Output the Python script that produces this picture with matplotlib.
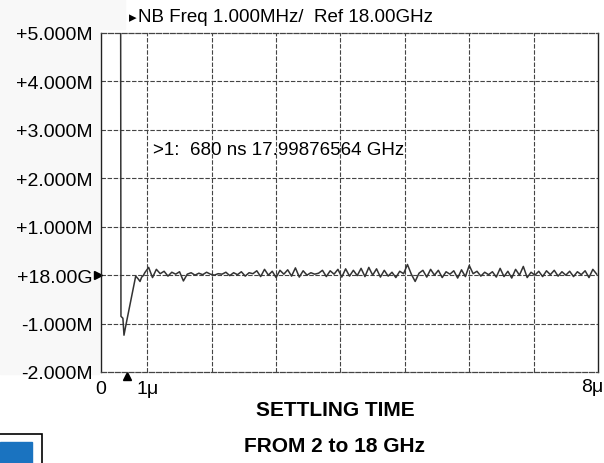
import numpy as np
import matplotlib
matplotlib.use("Agg")
import matplotlib.pyplot as plt
from matplotlib.patches import Rectangle

plt.rcParams['font.family'] = ['Liberation Sans', 'DejaVu Sans']

# y-axis: offset from 18 GHz in MHz
ytick_vals = [5, 4, 3, 2, 1, 0, -1, -2]
ytick_labels = ["+5.000M", "+4.000M", "+3.000M", "+2.000M", "+1.000M", "+18.00G", "-1.000M", "-2.000M"]

# x-axis in microseconds
xtick_vals = [0.28, 1]
xtick_labels = ["0", "1\u03bc"]

# transient after the 2 -> 18 GHz hop
trans_t = [0.585, 0.59, 0.62, 0.637, 0.664, 0.819, 0.859, 0.886, 0.912, 0.937]
trans_v = [5.6, -0.85, -0.89, -1.24, -1.05, -0.02, -0.08, -0.13, -0.04, -0.01]

# settled part, sampled every 0.06 us from 0.96 us
settle_t0 = 0.96
settle_dt = 0.06
settle_v = [0.05, 0.16, -0.05, 0.12, 0.03, 0.08, -0.02, 0.06, 0.02, 0.07,
            -0.12, 0.02, 0.05, 0.00, 0.04, 0.01, 0.06, 0.02, 0.00, 0.03,
            0.02, 0.06, -0.01, 0.05, 0.01, 0.07, -0.02, 0.05, 0.03, 0.09,
            -0.03, 0.12, 0.00, 0.08, -0.05, 0.10, 0.02, 0.11, -0.02, 0.15,
            -0.04, 0.09, 0.00, 0.05, 0.02, 0.04, 0.10, -0.03, 0.09, 0.02,
            0.12, -0.04, 0.13, -0.02, 0.10, -0.01, 0.14, -0.03, 0.16, 0.00,
            0.13, -0.04, 0.10, -0.02, 0.06, -0.05, 0.08, 0.03, 0.22, 0.02,
            -0.13, 0.04, 0.10, -0.04, 0.12, 0.00, 0.10, -0.05, 0.07, 0.02,
            0.09, -0.06, 0.11, -0.03, 0.20, 0.03, 0.08, -0.02, 0.06, 0.01,
            0.07, -0.04, 0.14, -0.03, 0.08, -0.06, 0.12, 0.00, 0.18, -0.05,
            0.06, 0.00, 0.08, -0.03, 0.09, 0.01, 0.10, -0.02, 0.07, 0.00,
            0.08, -0.03, 0.07, 0.01, 0.09, -0.05, 0.12, 0.02]
settle_t = settle_t0 + settle_dt * np.arange(len(settle_v))

marker_t = 0.68

W, H = 604, 464
fig = plt.figure(figsize=(W / 100, H / 100), dpi=100)
ax = fig.add_axes([101 / W, 1 - 373 / H, (598 - 101) / W, (373 - 34) / H])

# light gray scan background on the left
fig.add_artist(Rectangle((0, 1 - 375 / H), 99 / W, 375 / H, transform=fig.transFigure,
                         color="#f8f8f8", zorder=-5))
fig.add_artist(Rectangle((0, 1 - 30 / H), 125 / W, 30 / H, transform=fig.transFigure,
                         color="#f8f8f8", zorder=-5))

t = np.concatenate([trans_t, settle_t])
v = np.concatenate([trans_v, settle_v])
ax.plot(t, v, color="#333333", lw=1.1, zorder=3, solid_joinstyle="round")

ax.set_xlim(0.28, 8.0)
ax.set_ylim(-2, 5)
ax.set_yticks(ytick_vals)
ax.set_yticklabels(ytick_labels, fontsize=14)
ax.set_xticks(xtick_vals)
ax.set_xticklabels(xtick_labels, fontsize=14)
ax.tick_params(length=0, pad=6)
fig.text(603 / W, 1 - 388 / H, "8\u03bc", fontsize=14, ha="right", va="center")

for gx in range(1, 8):
    ax.axvline(gx, color="#444444", lw=0.8, ls=(0, (4, 1.5)), zorder=1)
for gy in range(-1, 5):
    ax.axhline(gy, color="#444444", lw=0.8, ls=(0, (4, 1.5)), zorder=1)
for s in ["top", "bottom"]:
    ax.spines[s].set_linestyle((0, (4, 1.5)))
    ax.spines[s].set_color("#444444")
    ax.spines[s].set_linewidth(0.9)
for s in ["left", "right"]:
    ax.spines[s].set_color("#222222")
    ax.spines[s].set_linewidth(1.0)

# markers: reference level and marker 1 position
ax.plot([0.235], [0], marker=">", color="black", ms=6, clip_on=False)
ax.plot([marker_t], [-2.09], marker="^", color="black", ms=6, clip_on=False)

ax.text(1.09, 2.6, ">1:  680 ns 17.99876564 GHz", fontsize=13.5, va="center", ha="left")

fig.text(129 / W, 1 - 18 / H, "\u25b8", fontsize=11, va="center", ha="left",
         family=["DejaVu Sans"])
fig.text(138 / W, 1 - 18 / H, "NB Freq 1.000MHz/  Ref 18.00GHz", fontsize=13.5,
         va="center", ha="left")

fig.text(335 / W, 1 - 411 / H, "SETTLING TIME", fontsize=15, fontweight="bold",
         ha="center", va="center")
fig.text(335 / W, 1 - 447 / H, "FROM 2 to 18 GHz", fontsize=15, fontweight="bold",
         ha="center", va="center")

# cropped logo in the corner
fig.add_artist(Rectangle((-0.01, -0.01), 48 / W, (464 - 435) / H + 0.01,
                         transform=fig.transFigure, fill=False, ec="black", lw=1.2))
fig.add_artist(Rectangle((0, 0), 32 / W, (464 - 443) / H, transform=fig.transFigure,
                         color="#1a73c0"))

fig.savefig("out.png", dpi=100)
